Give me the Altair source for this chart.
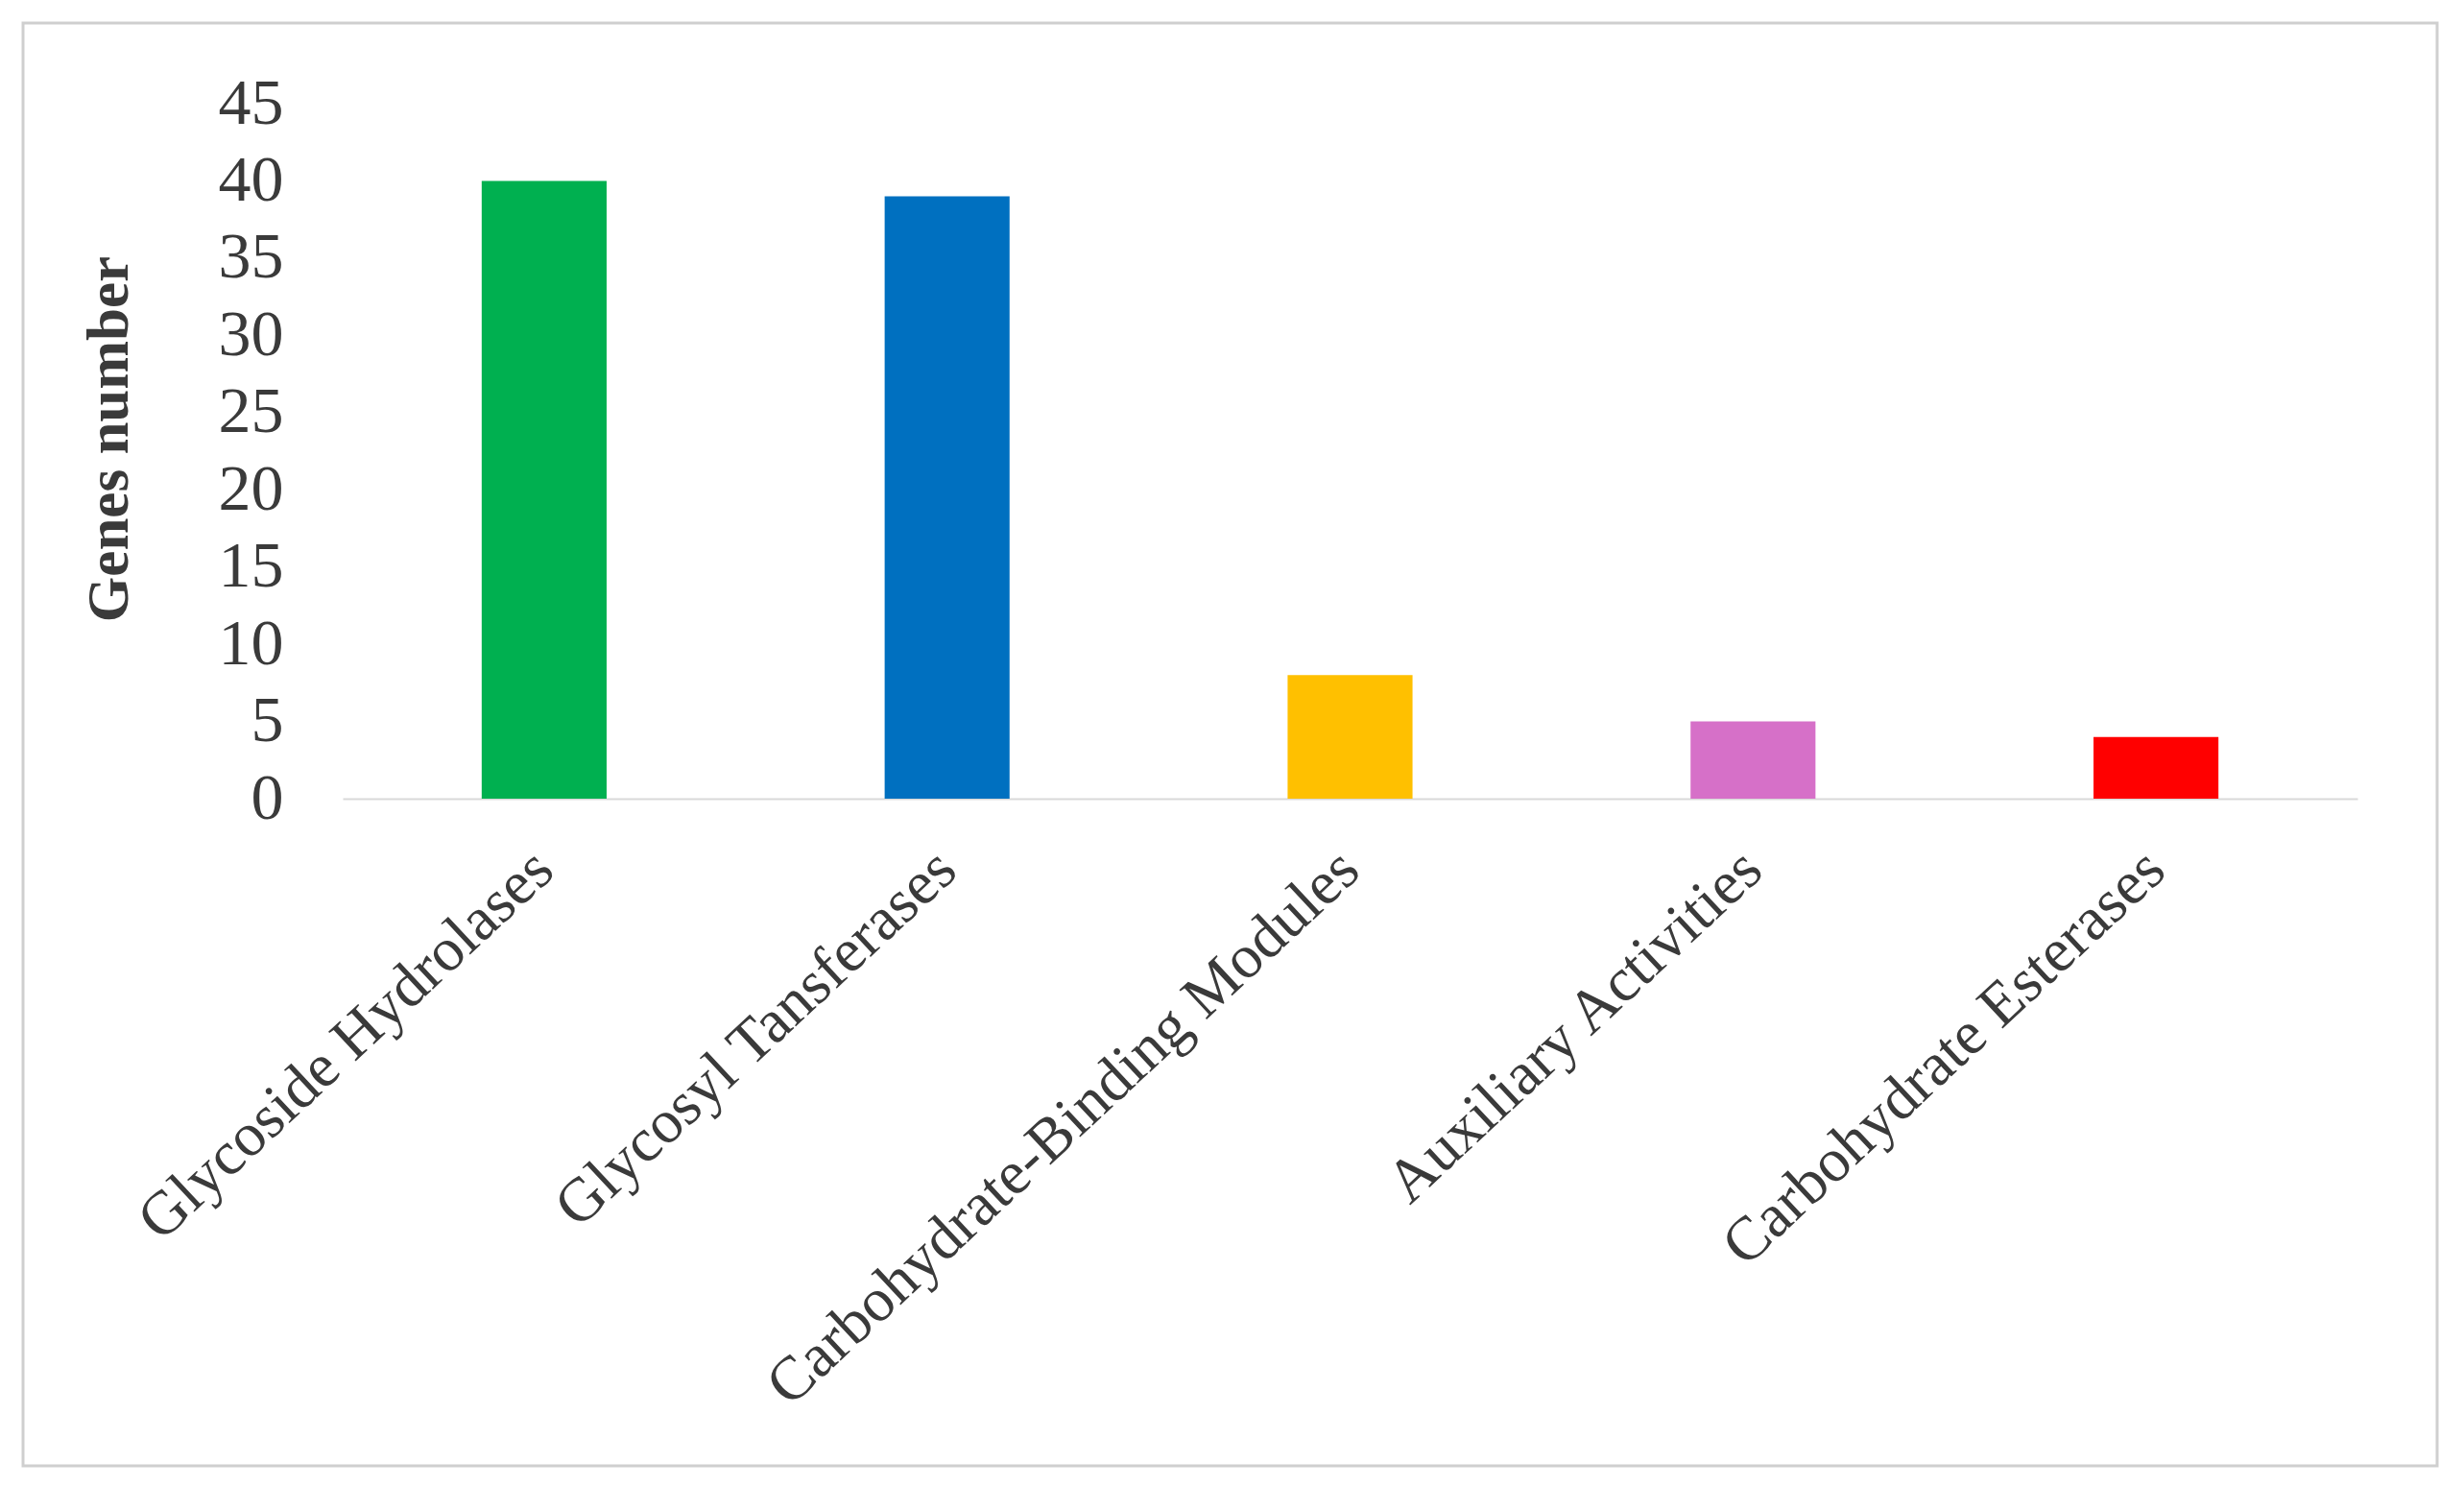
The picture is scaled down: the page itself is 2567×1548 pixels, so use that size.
import altair as alt
import pandas as pd

categories = [
    "Glycoside Hydrolases",
    "Glycosyl Tansferases",
    "Carbohydrate-Binding Modules",
    "Auxiliary Activities",
    "Carbohydrate Esterases",
]
genes = [40, 39, 8, 5, 4]
colors = ["#00B050", "#0070C0", "#FFC000", "#D670C8", "#FF0000"]
y_ticks = [0, 5, 10, 15, 20, 25, 30, 35, 40, 45]

df = pd.DataFrame({"category": categories, "genes": genes})

W, H = 2099, 724
FONT = "Liberation Serif"

border = alt.Chart(pd.DataFrame({"a": [0]})).mark_rect(
    fill="transparent", stroke="#cfcfcf", strokeWidth=3
).encode(
    x=alt.value(-333), x2=alt.value(2182), y=alt.value(-84), y2=alt.value(1419)
)

bars = alt.Chart(df).mark_bar().encode(
    x=alt.X(
        "category:N",
        sort=categories,
        scale=alt.Scale(paddingInner=0.69, paddingOuter=0.345),
        axis=alt.Axis(
            title=None,
            labelAngle=-43,
            labelAlign="right",
            labelBaseline="middle",
            labelFont=FONT,
            labelFontSize=64,
            labelColor="#3a3a3a",
            labelPadding=64,
            labelLimit=2000,
            ticks=False,
            domain=True,
            domainColor="#d9d9d9",
            domainWidth=2,
            grid=False,
        ),
    ),
    y=alt.Y(
        "genes:Q",
        scale=alt.Scale(domain=[0, 45], nice=False),
        axis=alt.Axis(
            values=y_ticks,
            title="Genes number",
            titleFont=FONT,
            titleFontSize=61,
            titleFontWeight="bold",
            titleColor="#3a3a3a",
            titlePadding=82,
            titleY=349,
            labelFont=FONT,
            labelFontSize=68,
            labelColor="#3a3a3a",
            labelPadding=62,
            ticks=False,
            domain=False,
            grid=False,
        ),
    ),
    color=alt.Color(
        "category:N",
        scale=alt.Scale(domain=categories, range=colors),
        legend=None,
    ),
)

chart = alt.layer(border, bars).properties(
    width=W,
    height=H,
    padding={"left": 349, "top": 100, "right": 100, "bottom": 700},
    autosize=alt.AutoSizeParams(type="none"),
    background="white",
).configure_view(stroke=None)

chart.save("out.html", embed_options={"renderer": "svg", "actions": False})
